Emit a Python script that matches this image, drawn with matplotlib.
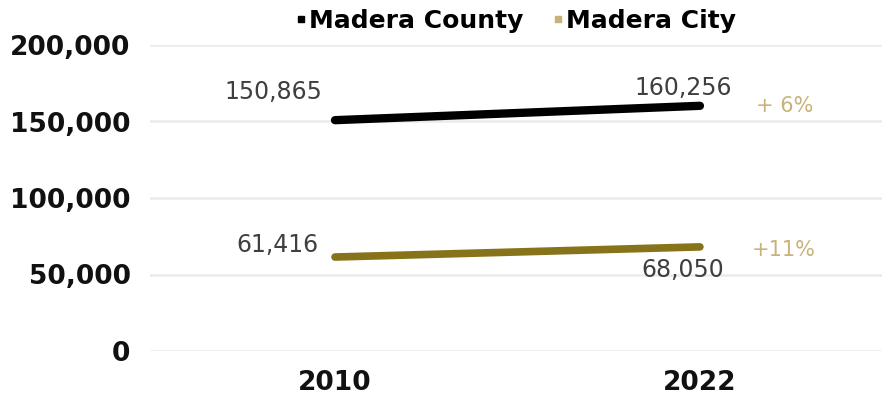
import matplotlib
matplotlib.use("Agg")
import matplotlib.pyplot as plt
from matplotlib.lines import Line2D

# Data
years = ["2010", "2022"]
county = [150865, 160256]
city = [61416, 68050]
county_change = "+ 6%"
city_change = "+11%"
yticks = [0, 50000, 100000, 150000, 200000]

black = "#000000"
gold = "#87741a"
light_gold = "#c9b27a"
label_grey = "#3f3f3f"

fig = plt.figure(figsize=(8.82, 3.96), dpi=100)
ax = fig.add_axes([150 / 882, 45 / 396, 732 / 882, 306 / 396])

x = list(range(len(years)))
ax.plot(x, county, color=black, lw=6, solid_capstyle="round", zorder=3)
ax.plot(x, city, color=gold, lw=5.5, solid_capstyle="round", zorder=3)

ax.set_xlim(-0.507, 1.499)
ax.set_ylim(0, 200000)
ax.set_yticks(yticks)
ax.set_yticklabels([f"{v:,}" for v in yticks])
ax.set_xticks(x)
ax.set_xticklabels(years)
ax.tick_params(length=0, labelsize=19)
ax.tick_params(axis="y", pad=14)
ax.tick_params(axis="x", pad=14)
for lab in ax.get_xticklabels() + ax.get_yticklabels():
    lab.set_fontweight("bold")
    lab.set_color("#111111")
ax.grid(axis="y", color="#ebebeb", lw=1.8)
ax.set_axisbelow(True)
for s in ax.spines.values():
    s.set_visible(False)

# value labels
lab_kw = dict(textcoords="offset pixels", ha="center", va="center",
              fontsize=17, color=label_grey)
ax.annotate(f"{county[0]:,}", (x[0], county[0]), xytext=(-62, 28), **lab_kw)
ax.annotate(f"{county[1]:,}", (x[1], county[1]), xytext=(-17, 18), **lab_kw)
ax.annotate(f"{city[0]:,}", (x[0], city[0]), xytext=(-58, 12), **lab_kw)
ax.annotate(f"{city[1]:,}", (x[1], city[1]), xytext=(-17, -23), **lab_kw)

pct_kw = dict(textcoords="offset pixels", ha="center", va="center",
              fontsize=15, color=light_gold)
ax.annotate(county_change, (x[1], county[1]), xytext=(85, 0), **pct_kw)
ax.annotate(city_change, (x[1], city[1]), xytext=(84, -3), **pct_kw)

handles = [Line2D([], [], marker="s", ls="", color=black, markersize=4),
           Line2D([], [], marker="s", ls="", color=light_gold, markersize=4)]
leg = ax.legend(handles, ["Madera County", "Madera City"], ncol=2,
                loc="center", bbox_to_anchor=(0.5, 1.08), frameon=False,
                handlelength=0.4, handletextpad=0.1, columnspacing=1.2,
                prop=dict(weight="bold", size=18))

fig.savefig("out.png", dpi=100)
